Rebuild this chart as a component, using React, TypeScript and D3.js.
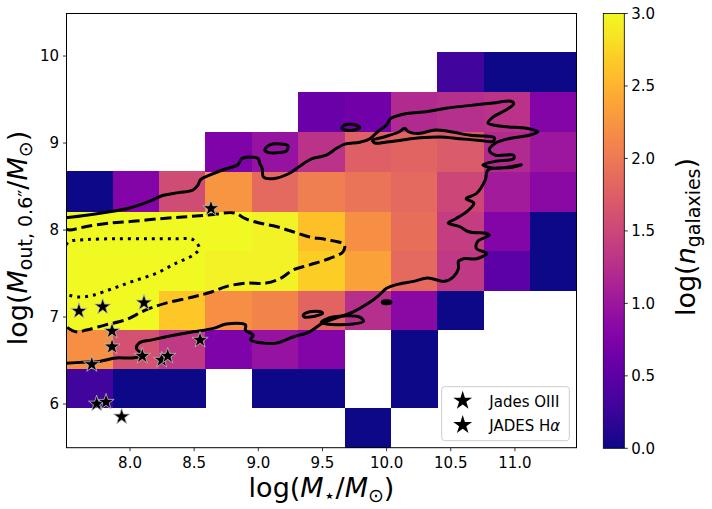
import * as d3 from "d3";

// 2D histogram bin edges (log M*, log M_out)
const xEdges = [7.505, 7.868, 8.226, 8.585, 8.949, 9.307, 9.673, 10.034, 10.393, 10.759, 11.118, 11.48];
const yEdges = [5.498, 5.957, 6.406, 6.862, 7.31, 7.764, 8.218, 8.678, 9.129, 9.589, 10.049, 10.489];

// log(n_galaxies) per cell, rows from bottom to top, null = empty bin
const logCounts: (number | null)[][] = [
  [null, null, null, null, null, null, 0, null, null, null, null],
  [0.3, 0, 0, null, 0, 0, null, 0, null, null, null],
  [2.2, 1.6, 1.35, 0.75, 0.95, 0.8, null, 0, null, null, null],
  [3, 3, 2.65, 2.2, 2.1, 1.8, 1.25, 0.85, 0, null, null],
  [3, 3, 3, 2.95, 2.95, 2.7, 2.35, 1.85, 1.35, 0.5, 0],
  [3, 3, 3, 3, 2.95, 2.6, 2.2, 1.9, 1.4, 0.8, 0],
  [0, 0.8, 1.55, 2.25, 1.85, 2.05, 1.95, 1.85, 1.5, 1.05, 0.85],
  [null, null, null, 0.75, 0.95, 1.3, 1.75, 1.8, 1.7, 1.2, 1.0],
  [null, null, null, null, null, 0.6, 0.65, 1.2, 1.25, 1.3, 0.8],
  [null, null, null, null, null, null, null, null, 0.3, 0, 0],
  [null, null, null, null, null, null, null, null, null, null, null],
];

const xTicks = [8.0, 8.5, 9.0, 9.5, 10.0, 10.5, 11.0];
const yTicks = [6, 7, 8, 9, 10];
const cbTicks = [0, 0.5, 1.0, 1.5, 2.0, 2.5, 3.0];

// JADES galaxies
const jadesOIII: [number, number][] = [
  [8.631, 8.249], [7.602, 7.069], [7.787, 7.118], [8.109, 7.164],
  [7.86, 6.839], [7.86, 6.659], [7.702, 6.456],
];
const jadesHa: [number, number][] = [
  [8.096, 6.552], [8.247, 6.506], [8.294, 6.552], [8.546, 6.736],
  [7.74, 6.003], [7.813, 6.023], [7.935, 5.854],
];

// density contours (outer solid, middle dashed, inner dotted)
const contourOuter: [number, number][] = [
  [7.5, 8.14], [7.66, 8.17], [7.84, 8.21], [7.99, 8.25], [8.15, 8.33], [8.26, 8.4],
  [8.38, 8.43], [8.49, 8.46], [8.53, 8.52], [8.55, 8.58], [8.62, 8.63], [8.72, 8.69],
  [8.84, 8.75], [8.87, 8.82], [8.93, 8.84], [9.0, 8.82], [9.01, 8.77], [9.03, 8.71],
  [9.04, 8.61], [9.11, 8.59], [9.24, 8.65], [9.32, 8.73], [9.42, 8.82], [9.53, 8.86],
  [9.61, 8.94], [9.68, 8.99], [9.79, 9.01], [9.87, 9.05], [9.93, 9.13], [10.0, 9.21],
  [10.03, 9.28], [10.16, 9.34], [10.31, 9.36], [10.46, 9.4], [10.64, 9.43], [10.83, 9.46],
  [10.97, 9.48], [10.99, 9.45], [10.93, 9.38], [10.83, 9.3], [10.79, 9.23], [10.91, 9.19],
  [11.09, 9.17], [11.18, 9.13], [11.11, 9.09], [10.95, 9.05], [10.85, 9.0], [10.8, 8.92],
  [10.85, 8.86], [10.99, 8.86], [10.99, 8.82], [10.85, 8.79], [10.75, 8.75], [10.85, 8.71],
  [11.05, 8.75], [10.98, 8.72], [10.79, 8.69], [10.77, 8.58], [10.7, 8.42], [10.62, 8.36],
  [10.68, 8.31], [10.64, 8.23], [10.54, 8.13], [10.48, 8.08], [10.57, 8.04], [10.64, 7.98],
  [10.78, 7.96], [10.8, 7.94], [10.71, 7.87], [10.7, 7.79], [10.78, 7.73], [10.7, 7.67],
  [10.6, 7.67], [10.56, 7.64], [10.56, 7.56], [10.52, 7.46], [10.45, 7.41], [10.32, 7.45],
  [10.21, 7.41], [10.07, 7.37], [10.0, 7.33], [9.94, 7.25], [9.86, 7.16], [9.74, 7.06],
  [9.61, 6.99], [9.5, 6.93], [9.4, 6.83], [9.27, 6.77], [9.14, 6.7], [9.04, 6.7],
  [8.94, 6.74], [8.96, 6.79], [8.9, 6.85], [8.9, 6.91], [8.75, 6.92], [8.65, 6.87],
  [8.49, 6.83], [8.34, 6.79], [8.18, 6.74], [8.07, 6.7], [8.05, 6.64], [8.1, 6.56],
  [8.02, 6.53], [7.89, 6.53], [7.76, 6.49], [7.63, 6.48], [7.5, 6.47],
];
const contourIslands: [number, number][][] = [
  [[9.05, 8.92], [9.09, 8.98], [9.17, 8.99], [9.23, 8.97], [9.22, 8.91], [9.15, 8.89], [9.08, 8.89]],
  [[9.65, 9.17], [9.68, 9.21], [9.75, 9.21], [9.79, 9.18], [9.75, 9.15], [9.68, 9.15]],
  [[9.89, 9.03], [9.98, 9.07], [10.1, 9.13], [10.14, 9.17], [10.17, 9.13], [10.25, 9.11],
   [10.38, 9.15], [10.5, 9.13], [10.65, 9.09], [10.76, 9.08], [10.84, 9.06], [10.83, 9.02],
   [10.73, 9.03], [10.57, 9.05], [10.42, 9.07], [10.26, 9.06], [10.1, 9.03], [9.99, 9.01], [9.91, 9.0]],
  [[9.49, 6.94], [9.58, 7.0], [9.79, 7.0], [9.82, 6.95], [9.74, 6.92], [9.53, 6.92]],
  [[9.35, 7.02], [9.4, 7.06], [9.49, 7.06], [9.5, 7.04], [9.44, 7.01], [9.36, 7.0]],
  [[9.97, 7.18], [10.03, 7.18], [10.03, 7.16], [9.97, 7.16]],
];
const contourMid: [number, number][] = [
  [7.5, 8.01], [7.53, 8.0], [7.66, 8.04], [7.84, 8.08], [8.02, 8.1], [8.23, 8.13],
  [8.41, 8.15], [8.59, 8.17], [8.79, 8.2], [8.83, 8.19], [8.9, 8.13], [9.01, 8.08],
  [9.14, 8.04], [9.27, 7.98], [9.4, 7.92], [9.53, 7.89], [9.67, 7.83], [9.66, 7.75],
  [9.55, 7.67], [9.4, 7.6], [9.27, 7.54], [9.18, 7.45], [9.06, 7.39], [8.9, 7.39],
  [8.75, 7.35], [8.64, 7.29], [8.49, 7.23], [8.28, 7.16], [8.12, 7.08], [7.97, 6.97],
  [7.81, 6.91], [7.66, 6.85], [7.58, 6.83], [7.5, 6.89],
];
const contourInner: [number, number][] = [
  [7.5, 7.83], [7.53, 7.87], [7.66, 7.89], [7.89, 7.9], [8.15, 7.9], [8.36, 7.9],
  [8.49, 7.89], [8.54, 7.79], [8.49, 7.71], [8.36, 7.62], [8.2, 7.5], [8.02, 7.41],
  [7.87, 7.33], [7.71, 7.25], [7.6, 7.23], [7.53, 7.25], [7.5, 7.27],
];

const W = 712;
const H = 509;
const plot = { left: 66.5, right: 576.5, top: 13.5, bottom: 447.7 };
const cb = { left: 603.3, width: 21, top: 13.5, bottom: 448.3 };
const font = "DejaVu Sans";

export default function App() {
  const x = d3.scaleLinear().domain([7.505, 11.48]).range([plot.left, plot.right]);
  const y = d3.scaleLinear().domain([5.498, 10.489]).range([plot.bottom, plot.top]);
  const color = d3.scaleSequential(d3.interpolatePlasma).domain([0, 3]);
  const cy = d3.scaleLinear().domain([0, 3]).range([cb.bottom, cb.top]);

  const line = d3
    .line<[number, number]>()
    .x((d) => x(d[0]))
    .y((d) => y(d[1]))
    .curve(d3.curveCatmullRom.alpha(0.5));
  const loop = d3
    .line<[number, number]>()
    .x((d) => x(d[0]))
    .y((d) => y(d[1]))
    .curve(d3.curveCatmullRomClosed.alpha(0.5));

  const star = d3.symbol(d3.symbolStar, 82)() as string;
  const starBig = d3.symbol(d3.symbolStar, 110)() as string;

  const cells: { i: number; j: number; v: number }[] = [];
  logCounts.forEach((row, j) =>
    row.forEach((v, i) => {
      if (v !== null) cells.push({ i, j, v });
    })
  );

  const gradStops = d3.range(0, 1.0001, 0.05);

  return (
    <svg
      width={W}
      height={H}
      style={{ position: "absolute", left: 0, top: 0, background: "#fff" }}
      fontFamily={font}
    >
      <defs>
        <clipPath id="plotClip">
          <rect x={plot.left} y={plot.top} width={plot.right - plot.left} height={plot.bottom - plot.top} />
        </clipPath>
        <linearGradient id="plasma" x1="0" y1="1" x2="0" y2="0">
          {gradStops.map((t) => (
            <stop key={t} offset={t} stopColor={d3.interpolatePlasma(t)} />
          ))}
        </linearGradient>
      </defs>

      {/* heatmap */}
      <g shapeRendering="crispEdges">
        {cells.map((c) => (
          <rect
            key={`${c.i}-${c.j}`}
            x={x(xEdges[c.i])}
            y={y(yEdges[c.j + 1])}
            width={x(xEdges[c.i + 1]) - x(xEdges[c.i]) + 0.5}
            height={y(yEdges[c.j]) - y(yEdges[c.j + 1]) + 0.5}
            fill={color(c.v)}
          />
        ))}
      </g>

      {/* contours */}
      <g clipPath="url(#plotClip)" fill="none" stroke="#000" strokeWidth={3}>
        <path d={line(contourOuter) as string} strokeLinejoin="round" />
        {contourIslands.map((pts, k) => (
          <path key={k} d={loop(pts) as string} />
        ))}
        <path d={line(contourMid) as string} strokeDasharray="11.1 4.8" />
        <path d={line(contourInner) as string} strokeDasharray="3 4.95" />
      </g>

      {/* stars */}
      <g fill="#000" stroke="#c0c0c0" strokeWidth={0.8}>
        {[...jadesOIII, ...jadesHa].map((d, k) => (
          <path key={k} d={star} transform={`translate(${x(d[0])},${y(d[1])})`} />
        ))}
      </g>

      {/* frame */}
      <rect
        x={plot.left}
        y={plot.top}
        width={plot.right - plot.left}
        height={plot.bottom - plot.top}
        fill="none"
        stroke="#000"
        strokeWidth={1}
      />

      {/* x axis */}
      {xTicks.map((t) => (
        <g key={t} transform={`translate(${x(t)},${plot.bottom})`}>
          <line y2={3.5} stroke="#000" strokeWidth={0.8} />
          <text y={20.5} textAnchor="middle" fontSize={15}>
            {t.toFixed(1)}
          </text>
        </g>
      ))}
      {/* y axis */}
      {yTicks.map((t) => (
        <g key={t} transform={`translate(${plot.left},${y(t)})`}>
          <line x2={-3.5} stroke="#000" strokeWidth={0.8} />
          <text x={-7.5} dy="0.36em" textAnchor="end" fontSize={15}>
            {t}
          </text>
        </g>
      ))}

      <text x={(plot.left + plot.right) / 2} y={497} textAnchor="middle" fontSize={27}>
        log(<tspan fontStyle="italic">M</tspan><tspan fontSize={19} dy={5}>⋆</tspan><tspan dy={-5}>/</tspan><tspan fontStyle="italic">M</tspan><tspan fontSize={19} dy={5}>⊙</tspan><tspan dy={-5}>)</tspan>
      </text>
      <text transform="translate(27,238) rotate(-90)" textAnchor="middle" fontSize={27}>
        log(<tspan fontStyle="italic">M</tspan><tspan fontSize={19} dy={5}>out, 0.6″</tspan><tspan dy={-5}>/</tspan><tspan fontStyle="italic">M</tspan><tspan fontSize={19} dy={5}>⊙</tspan><tspan dy={-5}>)</tspan>
      </text>

      {/* legend */}
      <g>
        <rect x={441.7} y={386.7} width={127.6} height={54} rx={3} fill="#fff" fillOpacity={0.8} stroke="#cccccc" strokeWidth={1} />
        <path d={starBig} transform="translate(462.7,400.7)" fill="#000" />
        <text x={489.3} y={406.5} fontSize={15}>Jades OIII</text>
        <path d={starBig} transform="translate(462.7,425)" fill="#000" />
        <text x={489.3} y={431} fontSize={15}>
          JADES H<tspan fontStyle="italic">α</tspan>
        </text>
      </g>

      {/* colorbar */}
      <rect x={cb.left} y={cb.top} width={cb.width} height={cb.bottom - cb.top} fill="url(#plasma)" stroke="#000" strokeWidth={0.8} />
      {cbTicks.map((t) => (
        <g key={t} transform={`translate(${cb.left + cb.width},${cy(t)})`}>
          <line x2={3.5} stroke="#000" strokeWidth={0.8} />
          <text x={7} dy="0.36em" fontSize={15}>
            {t.toFixed(1)}
          </text>
        </g>
      ))}
      <text transform="translate(695,237) rotate(-90)" textAnchor="middle" fontSize={27}>
        log(<tspan fontStyle="italic">n</tspan><tspan fontSize={19} dy={5}>galaxies</tspan><tspan dy={-5}>)</tspan>
      </text>
    </svg>
  );
}
